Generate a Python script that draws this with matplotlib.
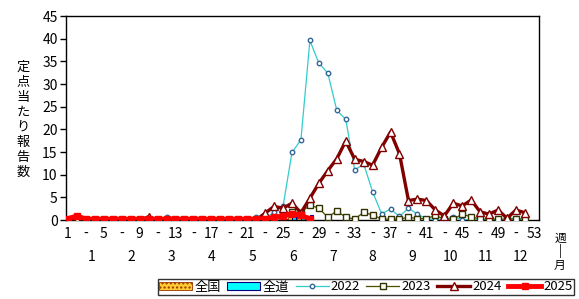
import matplotlib
matplotlib.use("Agg")
import matplotlib.pyplot as plt
import numpy as np

plt.rcParams['font.family'] = ['Noto Sans CJK JP', 'DejaVu Sans']

# ---- data ----
weeks_full = list(range(1, 53))
weeks_2025 = list(range(1, 29))

y2022 = [0, 0, 0, 0, 0, 0, 0, 0, 0, 0, 0, 0.7, 0, 0, 0, 0, 0, 0, 0, 0, 0, 0.7,
         0.3, 1.8, 3.0, 14.9, 17.7, 39.6, 34.6, 32.4, 24.2, 22.2, 11.0, 12.4, 6.2,
         1.4, 2.4, 0.8, 2.6, 1.3, 0.3, 0.1, 0.1, 0.7, 0.1, 0.1, 0.1, 0.1, 0.1,
         0.1, 0.5, 0.1]
y2023 = [0] * 22 + [0.2, 0.5, 1.0, 1.8, 1.6, 3.3, 2.6, 0.6, 2.0, 0.6, 0.2, 1.7,
                    1.1, 0.2, 0.2, 0.2, 0.6, 0.3, 0.3, 1.0, 0.2, 0.2, 1.3, 0.7,
                    0.2, 0.2, 0.2, 0.2, 0.2, 0.2]
y2024 = [0, 0, 0, 0, 0, 0, 0, 0, 0, 0.7, 0, 0, 0, 0, 0, 0, 0, 0, 0, 0, 0, 0,
         1.5, 3.0, 2.6, 3.7, 1.6, 4.8, 8.1, 10.9, 13.5, 17.4, 13.4, 12.9, 12.1,
         16.0, 19.4, 14.6, 4.3, 4.6, 4.3, 2.2, 0.9, 3.7, 3.1, 4.4, 1.8, 1.3,
         2.2, 0.4, 2.2, 1.6]
y2025 = [0.3, 0.9] + [0.2] * 20 + [0.3, 0.6, 0.9, 1.4, 1.0, 0.3]
zenkoku = [0.1] * 22 + [0.2, 0.3, 0.5, 0.8, 0.9, 0.7]
zendo = [0] * 24 + [0.3, 0.6, 0.4, 1.2]

month_labels = ['1', '2', '3', '4', '5', '6', '7', '8', '9', '10', '11', '12']
ylabel = '定点当たり報告数'

# ---- figure ----
fig = plt.figure(figsize=(5.79, 2.99), dpi=100)
ax = fig.add_axes([66 / 579, 1 - 220 / 299, (539 - 66) / 579, (220 - 16) / 299])

w25 = np.array(weeks_2025)
b1 = ax.bar(w25 - 0.2, zenkoku, width=0.4, color='#FFCC33', edgecolor='#993300',
            linewidth=0.6, hatch='....', label='全国', zorder=2)
b2 = ax.bar(w25 + 0.2, zendo, width=0.4, color='#00FFFF', edgecolor='#000080',
            linewidth=0.8, label='全道', zorder=2)

l1, = ax.plot(weeks_full, y2022, color='#33CCCC', lw=0.9, marker='o', ms=3.2,
              mfc='white', mec='#336699', mew=1.0, label='2022', zorder=3)
l2, = ax.plot(weeks_full, y2023, color='#4D4D00', lw=0.9, marker='s', ms=3.8,
              mfc='white', mec='#333300', mew=1.0, label='2023', zorder=3)
l3, = ax.plot(weeks_full, y2024, color='#800000', lw=2.4, marker='^', ms=6,
              mfc='white', mec='#800000', mew=1.0, label='2024', zorder=4)
l4, = ax.plot(weeks_2025, y2025, color='#FF0000', lw=3.5, marker='s', ms=4,
              mfc='#FF0000', mec='#FF0000', label='2025', zorder=5)

ax.set_xlim(0.78, 53.57)
ax.set_ylim(0, 45)
ax.set_yticks(range(0, 46, 5))
xt = list(range(1, 54, 2))
ax.set_xticks(xt)
ax.set_xticklabels([str(w) if (w - 1) % 4 == 0 else '-' for w in xt])
ax.tick_params(axis='x', length=0, pad=5, labelsize=10)
ax.tick_params(axis='y', length=4, width=1, direction='out', pad=2, labelsize=10)
for s in ax.spines.values():
    s.set_linewidth(1.0)

# month labels
month_px = [91.7, 131.7, 171.7, 211.7, 252.7, 293, 332.7, 372.7, 412.7, 450.5, 485.7, 520]
for lab, px in zip(month_labels, month_px):
    fig.text(px / 579, 1 - 257 / 299, lab, ha='center', va='center', fontsize=10)

# 週 | 月
fig.text(560 / 579, 1 - 238 / 299, '週', ha='center', va='center', fontsize=8.5)
fig.text(560 / 579, 1 - 251 / 299, '|', ha='center', va='center', fontsize=8.5)
fig.text(560 / 579, 1 - 265 / 299, '月', ha='center', va='center', fontsize=8.5)

# vertical y label
for i, ch in enumerate(ylabel):
    fig.text(23 / 579, 1 - (67 + 15 * i) / 299, ch, ha='center', va='center', fontsize=9.5)

leg = fig.legend(handles=[b1, b2, l1, l2, l3, l4],
                 labels=['全国', '全道', '2022', '2023', '2024', '2025'],
                 loc='center', bbox_to_anchor=(366 / 579, 1 - 287 / 299), ncol=6,
                 fontsize=9.5, frameon=True, fancybox=False, edgecolor='black',
                 handlelength=2.5, handleheight=0.6, handletextpad=0.15,
                 columnspacing=0.5, borderpad=0.1, borderaxespad=0)
leg.get_frame().set_linewidth(1.0)

fig.savefig('out.png', dpi=100)
